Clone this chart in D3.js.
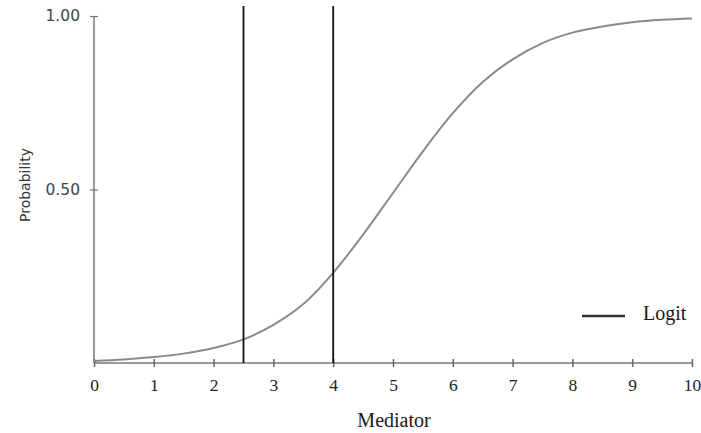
<!DOCTYPE html>
<html>
<head>
<meta charset="utf-8">
<script src="https://cdn.jsdelivr.net/npm/d3@7/dist/d3.min.js"></script>
<style>
  html, body { margin: 0; padding: 0; background: #fff; }
  svg { display: block; }
</style>
</head>
<body>
<svg id="chart" width="701" height="433"></svg>
<script>
// Mediator values and the logit probability curve
const mediator = [0, 0.5, 1, 1.5, 2, 2.5, 3, 3.5, 4, 4.5, 5, 5.5, 6, 6.5, 7, 7.5, 8, 8.5, 9, 9.5, 10];
const probability = [0.006, 0.010, 0.017, 0.027, 0.043, 0.068, 0.11, 0.17, 0.26, 0.37, 0.49, 0.61, 0.72, 0.81, 0.875, 0.922, 0.952, 0.97, 0.982, 0.989, 0.993];
// Reference cut-offs on the mediator
const cutoffs = [2.5, 4];
const xTicks = [0, 1, 2, 3, 4, 5, 6, 7, 8, 9, 10];
const yTicks = [0.5, 1.0];
const yTickLabels = ["0.50", "1.00"];

const svg = d3.select("#chart");
const x = d3.scaleLinear().domain([0, 10]).range([94, 692]);
const y = d3.scaleLinear().domain([0, 1]).range([363, 16]);

const axisColor = "#9a9a9a";

// y axis
const yAxis = svg.append("g").attr("transform", `translate(${x(0)},0)`)
  .call(d3.axisLeft(y).tickValues(yTicks).tickSize(4)
    .tickFormat((d, i) => yTickLabels[i]));
yAxis.select(".domain").attr("d", `M0,${y(0)}V${y(1)}`).attr("stroke", axisColor).attr("stroke-width", 2);
yAxis.selectAll(".tick line").attr("stroke", "#777").attr("x1", -4).attr("x2", 4).attr("stroke-width", 1.2);
yAxis.selectAll(".tick text").attr("x", -14).attr("font-family", "DejaVu Sans, sans-serif")
  .attr("font-size", 15.5).attr("fill", "#444");

// x axis
const xAxis = svg.append("g").attr("transform", `translate(0,${y(0)})`)
  .call(d3.axisBottom(x).tickValues(xTicks).tickSize(4).tickFormat(d3.format("d")));
xAxis.select(".domain").attr("d", `M${x(0)},0H${x(10)}`).attr("stroke", axisColor).attr("stroke-width", 2);
xAxis.selectAll(".tick line").attr("stroke", "#666").attr("y1", -4).attr("y2", 4).attr("stroke-width", 1.5);
xAxis.selectAll(".tick text").attr("y", 16).attr("font-family", "Liberation Serif, serif")
  .attr("font-size", 17.5).attr("fill", "#222");

// logistic curve
const line = d3.line().x((d, i) => x(mediator[i])).y(d => y(d)).curve(d3.curveCatmullRom.alpha(0.5));
svg.append("path").datum(probability)
  .attr("d", line).attr("fill", "none").attr("stroke", "#8a8a8a").attr("stroke-width", 2);

// cut-off lines
svg.selectAll(".cut").data(cutoffs).enter().append("line")
  .attr("class", "cut")
  .attr("x1", d => x(d)).attr("x2", d => x(d))
  .attr("y1", 6).attr("y2", y(0))
  .attr("stroke", "#111").attr("stroke-width", 1.8);

// axis titles
svg.append("text").attr("x", 394).attr("y", 427).attr("text-anchor", "middle")
  .attr("font-family", "Liberation Serif, serif").attr("font-size", 20).attr("fill", "#1a1a1a")
  .text("Mediator");
svg.append("text").attr("transform", "translate(30,185) rotate(-90)").attr("text-anchor", "middle")
  .attr("font-family", "DejaVu Sans, sans-serif").attr("font-size", 14).attr("fill", "#333")
  .text("Probability");

// legend
svg.append("line").attr("x1", 582).attr("x2", 625).attr("y1", 316).attr("y2", 316)
  .attr("stroke", "#333").attr("stroke-width", 2.5);
svg.append("text").attr("x", 643).attr("y", 320)
  .attr("font-family", "Liberation Serif, serif").attr("font-size", 20).attr("fill", "#1a1a1a")
  .text("Logit");
</script>
</body>
</html>
